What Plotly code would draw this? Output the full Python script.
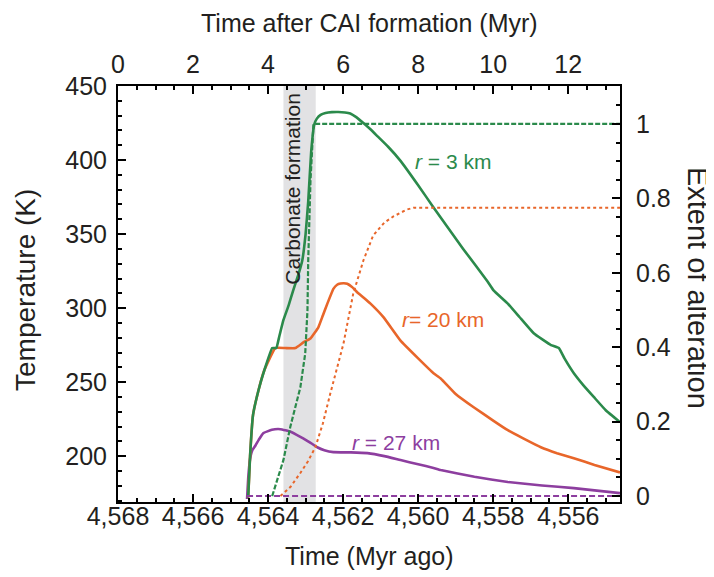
import plotly.graph_objects as go

# ---------------- data (time after CAI formation, Myr) ----------------
t_r3 = [3.47, 3.52, 3.60, 3.75, 3.90, 4.11, 4.22, 4.30, 4.41, 4.55, 4.67, 4.80, 4.91, 5.00,
        5.07, 5.15, 5.23, 5.30, 5.40, 5.53, 5.70, 5.87, 6.05, 6.19, 6.35, 6.54, 6.72, 6.92,
        7.20, 7.53, 8.00, 8.41, 9.20, 9.85, 10.01, 10.39, 10.70, 11.08, 11.30, 11.54, 11.75,
        11.90, 12.15, 12.40, 12.68, 13.00, 13.38]
temp_r3 = [172, 200, 228, 245, 258, 273, 273, 281, 292, 302, 312, 322, 332, 350,
           372, 406, 424, 428, 430.5, 431.8, 432.4, 432.5, 432.2, 431.5, 429, 425, 421, 416,
           409, 399.5, 383, 368, 340, 318, 312, 303, 294, 283, 279, 275, 273,
           266, 256, 248, 240, 231, 223]

t_r20 = [3.47, 3.52, 3.60, 3.75, 3.90, 4.19, 4.45, 4.73, 4.94, 5.13, 5.34, 5.46, 5.58, 5.74,
         5.84, 5.93, 6.02, 6.11, 6.25, 6.38, 6.55, 6.73, 7.08, 7.53, 8.00, 8.41, 8.60, 9.00,
         9.48, 10.00, 10.39, 10.80, 11.27, 11.70, 12.15, 12.70, 13.38]
temp_r20 = [172, 200, 228, 245, 258, 273, 273, 273, 276.8, 279.5, 287, 295, 303, 313,
            315.8, 316.6, 316.8, 316.5, 314, 310.5, 307, 303, 293.7, 278, 266, 256, 252.5, 242,
            233, 224, 217.5, 212, 206, 202, 198.6, 194, 189]

t_r27 = [3.44, 3.47, 3.52, 3.58, 3.66, 3.75, 3.87, 4.10, 4.33, 4.60, 4.86, 5.10, 5.31, 5.50,
         5.74, 6.20, 6.65, 7.10, 7.53, 8.00, 8.41, 8.60, 9.50, 10.39, 11.30, 12.15, 13.38]
temp_r27 = [171, 185, 198, 204, 207, 211, 215.5, 217.8, 218.2, 216.5, 213, 209.5, 206, 204,
            202.7, 202.5, 202, 200, 197.3, 194.5, 192, 190.6, 186, 182.5, 180.2, 178.4, 175]

t_alt_r3 = [4.11, 4.25, 4.41, 4.59, 4.73, 4.86, 4.99, 5.05, 5.07, 5.13, 5.21, 13.38]
alt_r3 = [0, 0.045, 0.097, 0.185, 0.24, 0.292, 0.383, 0.499, 0.633, 0.847, 1.0, 1.0]

t_alt_r20 = [4.33, 4.60, 4.86, 5.06, 5.26, 5.46, 5.66, 5.84, 6.01, 6.27, 6.54, 6.80, 7.10,
             7.35, 7.53, 7.70, 7.88, 13.38]
alt_r20 = [0, 0.025, 0.062, 0.093, 0.131, 0.195, 0.276, 0.345, 0.41, 0.544, 0.633, 0.70,
           0.735, 0.752, 0.762, 0.77, 0.775, 0.775]

t_alt_r27 = [3.44, 13.38]
alt_r27 = [0, 0]

carbonate_window = [4.41, 5.27]

bottom_ticks = [4568, 4566, 4564, 4562, 4560, 4558, 4556]
bottom_labels = ["4,568", "4,566", "4,564", "4,562", "4,560", "4,558", "4,556"]
top_ticks = [0, 2, 4, 6, 8, 10, 12]

# ---------------- styling ----------------
GREEN = "#2b8a4b"
ORANGE = "#e8662a"
PURPLE = "#8d3e9f"
FONT = "Liberation Sans, Arial, Helvetica, sans-serif"
TXT = "#231f20"

fig = go.Figure()

# empty trace so that the bottom (Myr ago) axis is drawn
fig.add_trace(go.Scatter(x=bottom_ticks, y=[None] * len(bottom_ticks), xaxis="x", yaxis="y",
                         mode="lines", showlegend=False, hoverinfo="skip"))

def add(t, v, color, yaxis, dash, width, shape):
    fig.add_trace(go.Scatter(x=t, y=v, xaxis="x2", yaxis=yaxis, mode="lines",
                             line=dict(color=color, width=width, dash=dash,
                                       shape=shape, smoothing=0.3 if shape == "spline" else None),
                             showlegend=False, hoverinfo="skip"))

add(t_alt_r27, alt_r27, PURPLE, "y2", "6px,3px", 2, "linear")
add(t_alt_r20, alt_r20, ORANGE, "y2", "3px,3px", 2, "linear")
add(t_alt_r3, alt_r3, GREEN, "y2", "5px,2px", 2.2, "linear")
add(t_r27, temp_r27, PURPLE, "y", "solid", 2.6, "spline")
add(t_r20, temp_r20, ORANGE, "y", "solid", 2.6, "spline")
add(t_r3, temp_r3, GREEN, "y", "solid", 2.6, "spline")

fig.add_shape(type="rect", xref="x2", yref="paper", x0=carbonate_window[0],
              x1=carbonate_window[1], y0=0, y1=1, fillcolor="#e2e2e4",
              line=dict(width=0), layer="below")

def note(text, x, y, color, xref="x2", yref="y", angle=0, size=21):
    fig.add_annotation(xref=xref, yref=yref, x=x, y=y, text=text, textangle=angle,
                       showarrow=False, xanchor="center", yanchor="middle",
                       font=dict(size=size, color=color, family=FONT))

note("Carbonate formation", 4.65, 0.752, TXT, yref="paper", angle=-90)
note("<i>r</i> = 3 km", 8.92, 399.3, GREEN)
note("<i>r</i>= 20 km", 8.65, 292.6, ORANGE)
note("<i>r</i> = 27 km", 7.42, 209, PURPLE)

# axis titles
note("Time after CAI formation (Myr)", 0.5, 1.152, TXT, xref="paper", yref="paper", size=25)
note("Time (Myr ago)", 0.5, -0.131, TXT, xref="paper", yref="paper", size=25)
note("Temperature (K)", -0.183, 0.51, TXT, xref="paper", yref="paper", angle=-90, size=28)
note("Extent of alteration", 1.155, 0.515, TXT, xref="paper", yref="paper", angle=90, size=29)

axis_common = dict(showline=True, linewidth=2, linecolor="black", ticks="inside",
                   tickwidth=2, tickcolor="black", ticklen=8, showgrid=False,
                   zeroline=False, automargin=False,
                   tickfont=dict(size=25, color=TXT, family=FONT))
minor_common = dict(ticks="inside", ticklen=4, tickwidth=1.5, tickcolor="black")

# the page body adds an 8px offset, so the figure is 8px smaller than the window
fig.update_layout(
    width=706, height=569,
    margin=dict(l=110, r=94, t=78, b=75),
    paper_bgcolor="white", plot_bgcolor="white",
    font=dict(family=FONT, color=TXT),
    xaxis=dict(range=[4568.0, 4554.62], tickvals=bottom_ticks, ticktext=bottom_labels,
               minor=dict(dtick=0.5, **minor_common), ticklabelstandoff=-9, **axis_common),
    xaxis2=dict(range=[0, 13.38], overlaying="x", side="top", anchor="y", tickvals=top_ticks,
                minor=dict(dtick=0.5, **minor_common), ticklabelstandoff=1, **axis_common),
    yaxis=dict(range=[169, 450.05], dtick=50, tick0=0,
               minor=dict(dtick=10, **minor_common), ticklabelstandoff=4, **axis_common),
    yaxis2=dict(range=[-0.016, 1.102], overlaying="y", side="right", anchor="x", dtick=0.2,
                tick0=0, minor=dict(dtick=0.05, **minor_common), ticklabelstandoff=9,
                **axis_common),
)

fig.write_html("out.html")
